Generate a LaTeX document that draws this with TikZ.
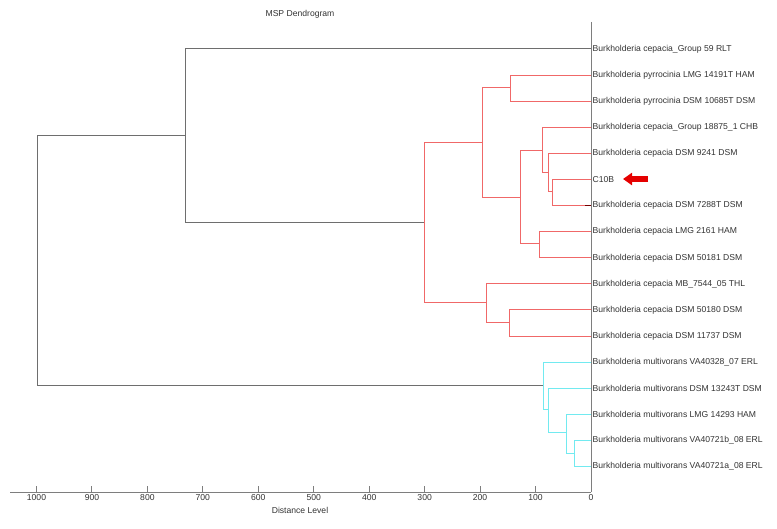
\documentclass[tikz,border=0pt]{standalone}
\usepackage{fontspec}
\setmainfont{Liberation Sans}
\usetikzlibrary{arrows.meta}

\definecolor{cladered}{HTML}{F06868}
\definecolor{cladecyan}{HTML}{72EAF0}
\definecolor{linkgray}{HTML}{6E6E6E}
\definecolor{axisgray}{HTML}{7E7E7E}
\definecolor{lbltext}{HTML}{333333}

\begin{document}
\begin{tikzpicture}[
    x=1pt, y=-1pt,
    leaf/.style={anchor=west, inner sep=1.5pt, text=lbltext,
                 font=\fontsize{8.6}{10}\selectfont},
    ticklbl/.style={inner sep=0pt, text=lbltext,
                    font=\fontsize{8.6}{10}\selectfont},
    ttl/.style={inner sep=0pt, text=lbltext,
                font=\fontsize{8.6}{10}\selectfont},
    link/.style={linkgray, line width=1pt},
    redlink/.style={cladered, line width=1pt},
    cyanlink/.style={cladecyan, line width=1pt},
    axisln/.style={axisgray, line width=1pt},
    pointer/.style={-{Triangle[length=9pt,width=12pt]}, line width=5.5pt,
                    draw=red!90!black},
]
\useasboundingbox (0,0) rectangle (777,529);

% === Axes ===

% Axis x-positions
\def\xzero{591}
\def\xscale{0.5545}

\draw[axisln] (10,492) -- (\xzero,492);
\draw[axisln] (\xzero,22) -- (\xzero,492);

% --- Ticks ---
\foreach \d in {0,100,...,1000} {
    \draw[axisln] ({\xzero-\xscale*\d},492) -- ++(0,-6);
    \node[ticklbl] (t\d) at ({\xzero-\xscale*\d},498) {\d};
}
\node[ttl] (xlbl) at (300,510) {Distance Level};
\node[ttl] (title) at (300,14) {MSP Dendrogram};

% === Leaves ===
\foreach \i/\txt in {
    1/Burkholderia cepacia\_Group 59 RLT,
    2/Burkholderia pyrrocinia LMG 14191T HAM,
    3/Burkholderia pyrrocinia DSM 10685T DSM,
    4/Burkholderia cepacia\_Group 18875\_1 CHB,
    5/Burkholderia cepacia DSM 9241 DSM,
    6/C10B,
    7/Burkholderia cepacia DSM 7288T DSM,
    8/Burkholderia cepacia LMG 2161 HAM,
    9/Burkholderia cepacia DSM 50181 DSM,
    10/Burkholderia cepacia MB\_7544\_05 THL,
    11/Burkholderia cepacia DSM 50180 DSM,
    12/Burkholderia cepacia DSM 11737 DSM,
    13/Burkholderia multivorans VA40328\_07 ERL,
    14/Burkholderia multivorans DSM 13243T DSM,
    15/Burkholderia multivorans LMG 14293 HAM,
    16/Burkholderia multivorans VA40721b\_08 ERL,
    17/Burkholderia multivorans VA40721a\_08 ERL} {
    \node[leaf] (l\i) at (\xzero, {49+(\i-1)*26.1}) {\txt};
}

% === Merge points ===
\coordinate (root) at (37, 261);
\coordinate (top)  at (185, 136);
% red clade
\coordinate (r)  at (424, 223);
\coordinate (r1) at (482, 143);
\coordinate (rp) at (510, 88);
\coordinate (rc) at (520, 198);
\coordinate (c1) at (542, 151);
\coordinate (c2) at (548, 173);
\coordinate (c3) at (552, 192);
\coordinate (c4) at (539, 244);
\coordinate (r2) at (486, 303);
\coordinate (r3) at (509, 323);
% cyan clade
\coordinate (b)  at (543, 386);
\coordinate (b1) at (548, 410);
\coordinate (b2) at (566, 433);
\coordinate (b3) at (574, 453);

% --- Gray links ---
\draw[link] (root) |- (top);
\draw[link] (root) |- (b);
\draw[link] (top) |- (l1.west);
\draw[link] (top) |- (r);

% --- Red links ---
\draw[redlink] (r) |- (r1);
\draw[redlink] (r) |- (r2);
\draw[redlink] (r1) |- (rp);
\draw[redlink] (r1) |- (rc);
\foreach \j in {2,3} {
    \draw[redlink] (rp) |- (l\j.west);
}
\draw[redlink] (rc) |- (c1);
\draw[redlink] (rc) |- (c4);
\draw[redlink] (c1) |- (l4.west);
\draw[redlink] (c1) |- (c2);
\draw[redlink] (c2) |- (l5.west);
\draw[redlink] (c2) |- (c3);
\foreach \j in {6,7} {
    \draw[redlink] (c3) |- (l\j.west);
}
\foreach \j in {8,9} {
    \draw[redlink] (c4) |- (l\j.west);
}
\draw[redlink] (r2) |- (l10.west);
\draw[redlink] (r2) |- (r3);
\foreach \j in {11,12} {
    \draw[redlink] (r3) |- (l\j.west);
}
\draw[link, draw=red!45!black] ([xshift=-6pt]l7.west) -- (l7.west);

% --- Cyan links ---
\draw[cyanlink] (b) |- (l13.west);
\draw[cyanlink] (b) |- (b1);
\draw[cyanlink] (b1) |- (l14.west);
\draw[cyanlink] (b1) |- (b2);
\draw[cyanlink] (b2) |- (l15.west);
\draw[cyanlink] (b2) |- (b3);
\foreach \j in {16,17} {
    \draw[cyanlink] (b3) |- (l\j.west);
}

% --- Marker ---
\coordinate (mtail) at (648, 179);
\coordinate (mtip)  at (623, 179);
\draw[pointer] (mtail) -- (mtip);

\end{tikzpicture}
\end{document}
